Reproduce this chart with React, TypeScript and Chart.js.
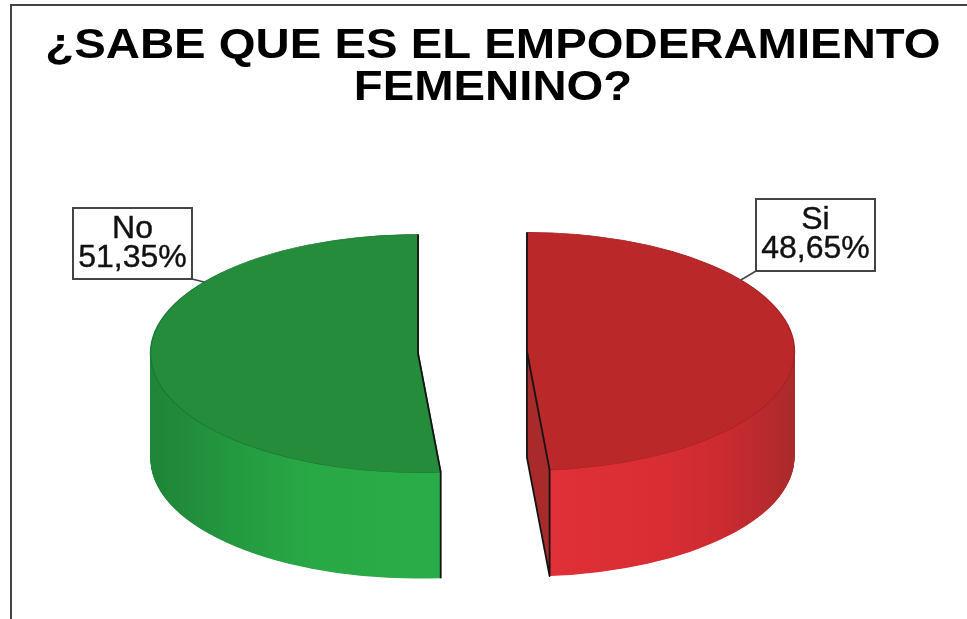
import React, { useEffect, useRef } from "react";
import { Chart, registerables } from "chart.js";

Chart.register(...registerables);

const categories = ["Si", "No"];
const percentages = [48.65, 51.35];
const titleLines = ["¿SABE QUE ES EL EMPODERAMIENTO", "FEMENINO?"];
const topColors = ["#bb2829", "#248c3b"];
const rimColors = ["#a82226", "#1c7a33"];

const FONT = "'Liberation Sans', Arial, sans-serif";
const PIE = { cx: 472.5, cy: 352.5, radius: 267.5, squash: 0.445, depth: 106, explode: 54.5 };
const LABEL_BOXES = [
  { x: 756, y: 199, w: 119, h: 72, cornerX: 756, cornerY: 271, leaderAngle: -36.9 },
  { x: 73, y: 208, w: 119, h: 71, cornerX: 192, cornerY: 279, leaderAngle: 216.9 },
];
const WALL_STOPS = [
  [[0, "#e03038"], [0.45, "#d92d34"], [0.7, "#cc2b31"], [0.88, "#b82a2e"], [1, "#aa2a2b"]],
  [[0, "#1f8538"], [0.12, "#218c3b"], [0.3, "#249a40"], [0.55, "#29a846"], [1, "#2aad48"]],
];
const CUT_FACE = "#a92a2b";
const EDGE = "#141414";
const TITLE_STRETCH = { scaleX: 1.1, centerX: 493 };

const pie3d = {
  id: "pie3d",
  beforeDatasetDraw() {
    return false;
  },
  beforeDraw(chart: any) {
    const { ctx, width } = chart;
    ctx.save();
    ctx.fillStyle = "#ffffff";
    ctx.fillRect(0, 0, width, chart.height);
    ctx.strokeStyle = "#444444";
    ctx.lineWidth = 2;
    ctx.beginPath();
    ctx.moveTo(11, chart.height);
    ctx.lineTo(11, 5);
    ctx.lineTo(width, 5);
    ctx.stroke();
    ctx.restore();
    // the title of the reference is wider than Liberation Sans Bold
    ctx.save();
    ctx.translate(TITLE_STRETCH.centerX, 0);
    ctx.scale(TITLE_STRETCH.scaleX, 1);
    ctx.translate(-TITLE_STRETCH.centerX, 0);
  },
  beforeDatasetsDraw(chart: any) {
    chart.ctx.restore();
  },
  afterDatasetsDraw(chart: any) {
    const { ctx } = chart;
    const arcs = chart.getDatasetMeta(0).data;
    const { radius: R, squash, depth } = PIE;

    arcs.forEach((arc: any, i: number) => {
      const mid = (arc.startAngle + arc.endAngle) / 2;
      const cx = PIE.cx + Math.cos(mid) * PIE.explode;
      const cy = PIE.cy + Math.sin(mid) * PIE.explode * squash;
      const place = (dy: number) => {
        ctx.translate(cx, cy + dy);
        ctx.scale(1, squash);
        ctx.translate(-arc.x, -arc.y);
      };

      // the lowest point of the cut rim: the end of Si, the start of No
      const cutAngle = i === 0 ? arc.endAngle : arc.startAngle;
      const cutX = Math.cos(cutAngle) * R;
      const cutY = Math.sin(cutAngle) * R * squash;

      // wall: the library's arc, stacked downward
      const x0 = i === 0 ? arc.x : arc.x - R;
      const x1 = i === 0 ? arc.x + R : arc.x + cutX;
      const grad = ctx.createLinearGradient(x0, 0, x1, 0);
      if (i === 0) {
        const t = cutX / R;
        grad.addColorStop(0, CUT_FACE);
        grad.addColorStop(t, CUT_FACE);
        WALL_STOPS[i].forEach(([s, c]: any) => grad.addColorStop(t + s * (1 - t), c));
      } else {
        WALL_STOPS[i].forEach(([s, c]: any) => grad.addColorStop(s, c));
      }
      const wall = Object.create(arc);
      wall.options = { ...arc.options, backgroundColor: grad, borderWidth: 0 };
      for (let k = depth; k >= 1; k -= 0.5) {
        ctx.save();
        place(k);
        wall.draw(ctx);
        ctx.restore();
      }

      // top face
      ctx.save();
      place(0);
      arc.draw(ctx);
      ctx.restore();

      // dark edges of the cut
      ctx.save();
      ctx.strokeStyle = EDGE;
      ctx.lineWidth = 1.8;
      ctx.lineJoin = "round";
      ctx.beginPath();
      const topY = cy - R * squash;
      if (i === 0) {
        ctx.moveTo(cx, topY);
        ctx.lineTo(cx, cy + depth);
        ctx.lineTo(cx + cutX, cy + cutY + depth);
        ctx.lineTo(cx + cutX, cy + cutY);
        ctx.lineTo(cx, cy);
      } else {
        ctx.moveTo(cx, topY);
        ctx.lineTo(cx, cy);
        ctx.lineTo(cx + cutX, cy + cutY);
        ctx.lineTo(cx + cutX, cy + cutY + depth);
      }
      ctx.stroke();
      ctx.restore();

      // label box and leader
      const box = LABEL_BOXES[i];
      const a = (box.leaderAngle * Math.PI) / 180;
      ctx.save();
      ctx.strokeStyle = "#444444";
      ctx.lineWidth = 1.5;
      ctx.beginPath();
      ctx.moveTo(box.cornerX, box.cornerY);
      ctx.lineTo(cx + Math.cos(a) * R, cy + Math.sin(a) * R * squash);
      ctx.stroke();
      ctx.fillStyle = "#ffffff";
      ctx.lineWidth = 2;
      ctx.fillRect(box.x, box.y, box.w, box.h);
      ctx.strokeRect(box.x, box.y, box.w, box.h);
      ctx.fillStyle = "#111111";
      ctx.strokeStyle = "#111111";
      ctx.lineWidth = 0.4;
      ctx.font = `32px ${FONT}`;
      ctx.textAlign = "center";
      ctx.textBaseline = "alphabetic";
      const mx = box.x + box.w / 2;
      const pct = percentages[i].toFixed(2).replace(".", ",") + "%";
      ctx.fillText(categories[i], mx, box.y + 30);
      ctx.strokeText(categories[i], mx, box.y + 30);
      ctx.fillText(pct, mx, box.y + 59);
      ctx.strokeText(pct, mx, box.y + 59);
      ctx.restore();
    });
  },
};

export default function App() {
  const ref = useRef<HTMLCanvasElement>(null);
  useEffect(() => {
    const chart = new Chart(ref.current as HTMLCanvasElement, {
      type: "pie",
      data: {
        labels: categories,
        datasets: [
          {
            data: percentages,
            backgroundColor: topColors,
            borderColor: rimColors,
            borderWidth: 1.5,
          },
        ],
      },
      options: {
        responsive: false,
        animation: false,
        radius: PIE.radius,
        layout: { padding: { left: 19 } },
        plugins: {
          legend: { display: false },
          tooltip: { enabled: false },
          title: {
            display: true,
            text: titleLines,
            color: "#000000",
            font: { family: FONT, size: 43, weight: "bold", lineHeight: 0.98 },
            padding: { top: 25, bottom: 10 },
          },
        },
      } as any,
      plugins: [pie3d as any],
    });
    return () => chart.destroy();
  }, []);
  return (
    <div style={{ position: "fixed", left: 0, top: 0, width: 967, height: 619 }}>
      <canvas ref={ref} width={967} height={619} style={{ display: "block", filter: "blur(0.5px)" }} />
    </div>
  );
}
